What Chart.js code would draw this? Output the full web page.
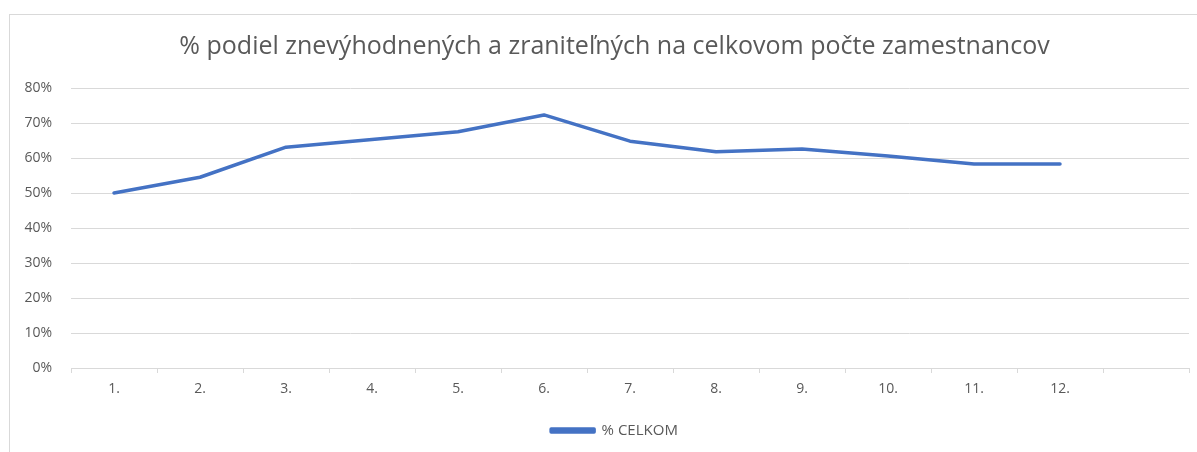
<!DOCTYPE html>
<html>
<head>
<meta charset="utf-8">
<script src="https://cdn.jsdelivr.net/npm/chart.js@4/dist/chart.umd.min.js"></script>
<style>
  html, body { margin: 0; padding: 0; background: #fff; overflow: hidden; }
  #frame {
    position: absolute; left: 9px; top: 14px; width: 1200px; height: 460px;
    border: 1px solid #d9d9d9; box-sizing: border-box;
  }
  #wrap { position: absolute; left: 0; top: 0; width: 1197px; height: 452px; }
</style>
</head>
<body>
<div id="frame"></div>
<div id="wrap"><canvas id="chart"></canvas></div>
<script>
// chart data
const CATEGORIES = ["1.", "2.", "3.", "4.", "5.", "6.", "7.", "8.", "9.", "10.", "11.", "12.", ""];
const CELKOM = [50, 54.5, 63.1, 65.3, 67.5, 72.3, 64.8, 61.8, 62.6, 60.6, 58.3, 58.3, null];
const SERIES_LABEL = "% CELKOM";
const TITLE = "% podiel znevýhodnených a zraniteľných na celkovom počte zamestnancov";
const Y_MIN = 0;
const Y_MAX = 80;
const Y_STEP = 10;

const FONT = "'Open Sans', 'DejaVu Sans', sans-serif";
const TEXT_COLOR = "#595959";
const GRID_COLOR = "#d9d9d9";
const LINE_COLOR = "#4472C4";

// the original centres title and legend a bit right of the canvas middle
const shiftBoxes = {
  id: "shiftBoxes",
  afterLayout(chart) {
    if (chart.titleBlock) chart.titleBlock.left += 40;
    if (chart.legend) chart.legend.left += 40;
  },
};

const ctx = document.getElementById("chart").getContext("2d");

const chart = new Chart(ctx, {
  type: "line",
  data: {
    labels: CATEGORIES,
    datasets: [
      {
        label: SERIES_LABEL,
        data: CELKOM,
        borderColor: LINE_COLOR,
        backgroundColor: LINE_COLOR,
        borderWidth: 3.5,
        pointRadius: 0,
        tension: 0,
        borderJoinStyle: "round",
        borderCapStyle: "round",
      },
    ],
  },
  options: {
    responsive: true,
    maintainAspectRatio: false,
    animation: false,
    layout: { padding: { left: 0, right: 8, top: 0, bottom: 4 } },
    scales: {
      x: {
        offset: true,
        grid: {
          offset: true,
          drawOnChartArea: false,
          drawTicks: true,
          tickLength: 5,
          color: GRID_COLOR,
        },
        border: { display: true, color: GRID_COLOR },
        ticks: {
          color: TEXT_COLOR,
          font: { family: FONT, size: 14 },
          padding: 8,
          maxRotation: 0,
          autoSkip: false,
        },
        afterFit: (scale) => { scale.height = 40; },
      },
      y: {
        min: Y_MIN,
        max: Y_MAX,
        grid: { color: GRID_COLOR, drawTicks: false },
        border: { display: false },
        ticks: {
          stepSize: Y_STEP,
          color: TEXT_COLOR,
          font: { family: FONT, size: 14 },
          padding: 19,
          callback: (v) => v + "%",
        },
        afterFit: (scale) => { scale.width = 71; },
      },
    },
    plugins: {
      title: {
        display: true,
        text: TITLE,
        color: TEXT_COLOR,
        font: { family: FONT, size: 25, weight: "normal" },
        padding: { top: 32, bottom: 26 },
      },
      legend: {
        position: "bottom",
        labels: {
          color: TEXT_COLOR,
          font: { family: FONT, size: 15 },
          boxWidth: 43,
          boxHeight: 3,
          padding: 15,
        },
      },
      tooltip: { enabled: false },
    },
  },
  plugins: [shiftBoxes],
});
</script>
</body>
</html>
